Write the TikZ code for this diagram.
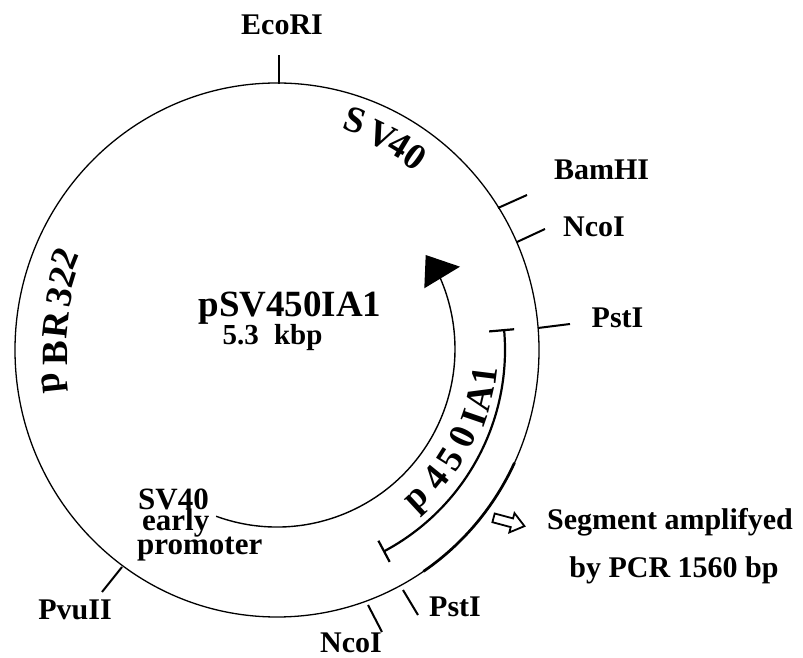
\documentclass[tikz,border=0pt]{standalone}
\usepackage{fontspec}
\setmainfont{Liberation Serif}
\begin{document}
\begin{tikzpicture}[x=1pt,y=1pt,
  lab/.style={font=\bfseries\fontsize{30}{30}\selectfont, inner sep=0pt, anchor=base},
  curv/.style={font=\bfseries\fontsize{37}{37}\selectfont, inner sep=0pt},
  big/.style={font=\bfseries\fontsize{37}{37}\selectfont, inner sep=0pt, anchor=base},
  prom/.style={font=\bfseries\fontsize{31}{31}\selectfont, inner sep=0pt, anchor=base west},
  site/.style={line width=2pt},
  ring/.style={line width=1.3pt}]
\useasboundingbox (0,0) rectangle (803,658);
\coordinate (c) at (277,308);
\coordinate (ci) at (277,309);
% plasmid ring
\draw[ring] (c) ellipse [x radius=262pt, y radius=267pt];
\draw[line width=2.7pt] ([shift={(-25:262pt and 267pt)}]c) arc[start angle=-25, end angle=-56, x radius=262pt, y radius=267pt];
% restriction sites
\coordinate (e1) at (279,574); \coordinate (e2) at (279,603);
\coordinate (b1) at (498,450); \coordinate (b2) at (527,463);
\coordinate (n1) at (517,416); \coordinate (n2) at (545,429);
\coordinate (p1) at (538,330); \coordinate (p2) at (570,334);
\coordinate (v1) at (122,91);  \coordinate (v2) at (102,66);
\coordinate (m1) at (368,53);  \coordinate (m2) at (382,26);
\coordinate (q1) at (403,68);  \coordinate (q2) at (418,43);
\draw[site] (e1) -- (e2);
\draw[site] (b1) -- (b2);
\draw[site] (n1) -- (n2);
\draw[site] (p1) -- (p2);
\draw[site] (v1) -- (v2);
\draw[site] (m1) -- (m2);
\draw[site] (q1) -- (q2);
\node[lab] (ecori) at (282,623) {EcoRI};
\node[lab] (bamhi) at (601.5,478) {BamHI};
\node[lab] (ncoi) at (594,421) {NcoI};
\node[lab] (psti) at (617.5,330) {PstI};
\node[lab] (pvuii) at (75,38) {PvuII};
\node[lab] (ncoib) at (351,5) {NcoI};
\node[lab] (pstib) at (455,41) {PstI};
% segment amplified
\node[lab] (seg1) at (670,128) {Segment amplifyed};
\node[lab] (seg2) at (674,80) {by PCR 1560 bp};
\draw[line width=1.8pt, shift={(509,136)}, rotate=-15]
  (-16,-4.5) -- (3,-4.5) -- (3,-10) -- (16,0) -- (3,10) -- (3,4.5) -- (-16,4.5) -- cycle;
% centre
\node[big] (name) at (290,341) {pSV450IA1};
\node[lab, font=\bfseries\fontsize{29}{29}\selectfont] (size) at (272.5,313) {5.3 \hspace{8pt}kbp};
% promoter and transcription arrow
\node[prom] (pr1) at (138,148) {SV40};
\node[prom] (pr2) at (142,127) {early};
\node[prom] (pr3) at (137,103) {promoter};
\draw[line width=1.4pt] ([shift={(-110:178pt)}]ci) arc[start angle=-110, end angle=23.5, radius=178pt];
\fill (425.7,403) -- (460,391.3) -- (424.3,369.7) -- cycle;
% p450IA1 bracket
\draw[line width=2.2pt] ([shift={(5:228pt)}]c) arc[start angle=5, end angle=-62, radius=228pt];
\draw[line width=2.2pt] ([shift={(5:213pt)}]c) -- ([shift={(5:238pt)}]c);
\draw[line width=2.2pt] ([shift={(-62:216pt)}]c) -- ([shift={(-62:240pt)}]c);
% curved labels
\node[curv, rotate=-18.7] (s1) at (355,538) {S};
\node[curv, rotate=-26] (s2) at (381.7,522.3) {V};
\node[curv, rotate=-31] (s3) at (400,513) {4};
\node[curv, rotate=-35.5] (s4) at (415,501.3) {0};
\node[curv, rotate=96] (r1) at (55,275) {p};
\node[curv, rotate=90] (r2) at (55,305) {B};
\node[curv, rotate=84] (r3) at (56,333) {R};
\node[curv, rotate=78] (r4) at (60,361) {3};
\node[curv, rotate=73] (r5) at (62,381) {2};
\node[curv, rotate=68] (r6) at (65,400) {2};
\node[curv, rotate=42.8] (g1) at (420,156) {p};
\node[curv, rotate=51] (g2) at (436,180) {4};
\node[curv, rotate=57.6] (g3) at (450,199) {5};
\node[curv, rotate=64.7] (g4) at (462,221) {0};
\node[curv, rotate=71] (g5) at (474,240) {I};
\node[curv, rotate=76.8] (g6) at (480,260) {A};
\node[curv, rotate=83] (g7) at (484,282) {1};
\end{tikzpicture}
\end{document}
